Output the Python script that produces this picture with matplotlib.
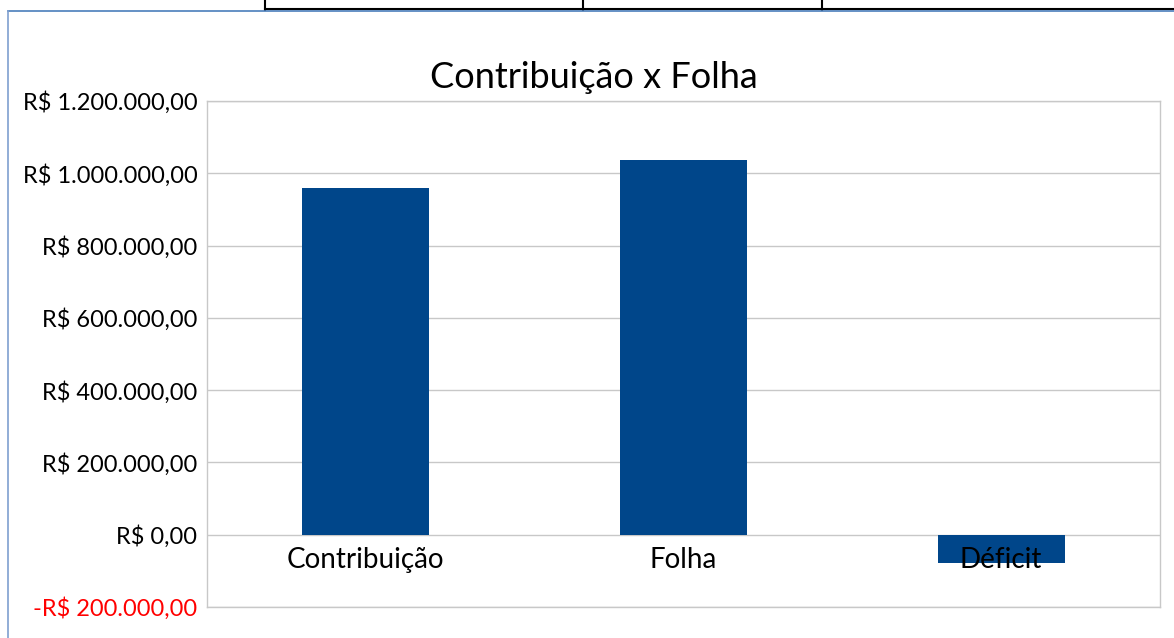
import matplotlib
matplotlib.use('Agg')
import numpy as np
from matplotlib import pyplot as plt
from matplotlib.lines import Line2D
from matplotlib.ticker import FuncFormatter
import matplotlib.transforms as mtransforms

# data
categories = ['Contribuição', 'Folha', 'Déficit']
values = [960000, 1038000, -78000]
yticks = [-200000, 0, 200000, 400000, 600000, 800000, 1000000, 1200000]

plt.rcParams['font.family'] = ['Lato', 'DejaVu Sans']

W, H = 1174, 638
fig = plt.figure(figsize=(W / 100, H / 100), dpi=100)

# plot area
left, right, top, bottom = 207, 1160, 101, 607
ax = fig.add_axes([left / W, 1 - bottom / H, (right - left) / W, (bottom - top) / H])

x = np.arange(len(categories))
ax.bar(x, values, width=0.40, color='#00468A', zorder=2)

ax.set_xlim(-0.5, len(categories) - 0.5)
ax.set_ylim(-200000, 1200000)
ax.set_yticks(yticks)

# brazilian currency format
def brl(v, pos=None):
    s = '{:,.2f}'.format(abs(v)).replace(',', 'X').replace('.', ',').replace('X', '.')
    return ('-R$ ' if v < 0 else 'R$ ') + s

ax.yaxis.set_major_formatter(FuncFormatter(brl))
ax.tick_params(axis='y', length=0, pad=7, labelsize=17)
for lab, v in zip(ax.get_yticklabels(), yticks):
    if v < 0:
        lab.set_color('#FF0000')

ax.set_xticks([])
ax.grid(axis='y', color='#C8C8C8', linewidth=1, zorder=0)
ax.set_axisbelow(True)
for s in ax.spines.values():
    s.set_color('#C8C8C8')
    s.set_linewidth(1)

# category labels right under the zero line
off = mtransforms.offset_copy(ax.transData, fig=fig, y=-12, units='dots')
for xi, c in zip(x, categories):
    ax.text(xi, 0, c, transform=off, ha='center', va='top', fontsize=20, zorder=5)

fig.text(594 / W, 1 - 77 / H, 'Contribuição x Folha', ha='center', va='center', fontsize=26)

# spreadsheet leftovers round the chart
def px_line(x0, y0, x1, y1, color, lw=1.2):
    fig.add_artist(Line2D([x0 / W, x1 / W], [1 - y0 / H, 1 - y1 / H], color=color, lw=lw))

for xv in [265, 583, 822]:
    px_line(xv, 0, xv, 10, 'black', 1.5)
px_line(265, 9, W, 9, 'black', 1.5)
px_line(8, 10.5, W, 10.5, '#4A7EBB', 1.2)
px_line(8, 10.5, 8, H, '#7F9FCF', 1.2)

fig.savefig('out.png', dpi=100)
